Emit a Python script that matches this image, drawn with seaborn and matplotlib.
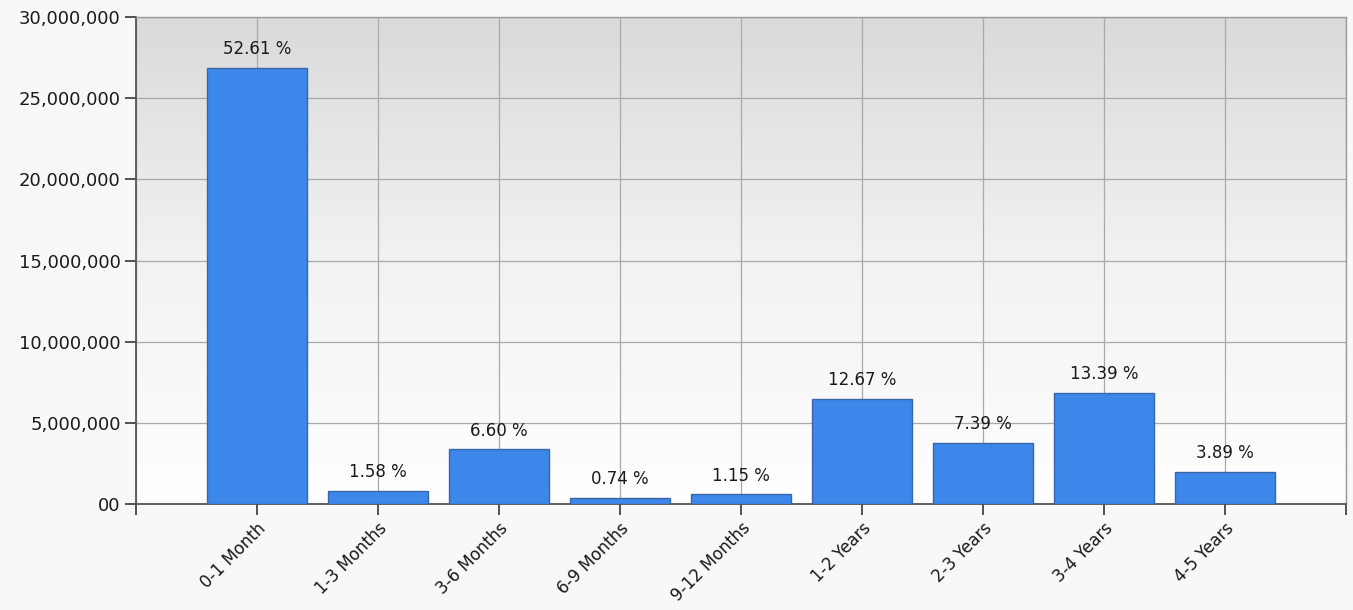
import numpy as np
import pandas as pd
import seaborn as sns
import matplotlib.pyplot as plt
from matplotlib.colors import LinearSegmentedColormap
from matplotlib.ticker import FixedLocator, FixedFormatter

# values
categories = ["0-1 Month", "1-3 Months", "3-6 Months", "6-9 Months", "9-12 Months",
              "1-2 Years", "2-3 Years", "3-4 Years", "4-5 Years"]
values = [26860000, 806000, 3370000, 378000, 587000, 6470000, 3770000, 6830000, 1985000]
pct_labels = ["52.61 %", "1.58 %", "6.60 %", "0.74 %", "1.15 %",
              "12.67 %", "7.39 %", "13.39 %", "3.89 %"]
y_ticks = [0, 5000000, 10000000, 15000000, 20000000, 25000000, 30000000]
y_tick_labels = ["00", "5,000,000", "10,000,000", "15,000,000", "20,000,000",
                 "25,000,000", "30,000,000"]

sns.set_theme(style="white")
plt.rcParams["font.family"] = ["DejaVu Sans"]

df = pd.DataFrame({"period": categories, "count": values})

fig = plt.figure(figsize=(13.53, 6.10), dpi=100, facecolor="#f8f8f8")
ax = fig.add_axes([0.1005, 0.1738, 0.8943, 0.7983])

sns.barplot(data=df, x="period", y="count", color="#3d87ea", saturation=1,
            width=0.82, edgecolor="#3a66a8", linewidth=1.0, ax=ax, zorder=3)

# grey-to-white background gradient of the plot area
grad = LinearSegmentedColormap.from_list("bg", ["#ffffff", "#f2f2f2", "#dadada"])
ax.imshow(np.linspace(0, 1, 256).reshape(-1, 1)[::-1], extent=(0, 1, 0, 1),
          transform=ax.transAxes, aspect="auto", cmap=grad, zorder=0)

ax.set_xlim(-1, 9)
ax.set_ylim(0, 30000000)

ax.xaxis.set_major_locator(FixedLocator(list(range(-1, 10))))
ax.xaxis.set_major_formatter(FixedFormatter([""] + categories + [""]))
ax.yaxis.set_major_locator(FixedLocator(y_ticks))
ax.yaxis.set_major_formatter(FixedFormatter(y_tick_labels))

ax.set_axisbelow(True)
ax.grid(True, color="#a9a9a9", linewidth=0.9)

ax.tick_params(axis="both", which="major", direction="out", length=8, width=1.3,
               color="#444444", labelcolor="#1a1a1a", pad=3,
               bottom=True, left=True)
ax.tick_params(axis="x", labelsize=12)
ax.tick_params(axis="y", labelsize=13)
plt.setp(ax.get_xticklabels(), rotation=45, ha="right", rotation_mode="anchor")

for side in ["left", "bottom"]:
    ax.spines[side].set_color("#555555")
    ax.spines[side].set_linewidth(1.3)
for side in ["top", "right"]:
    ax.spines[side].set_color("#9a9a9a")
    ax.spines[side].set_linewidth(1.0)

for i, (v, lab) in enumerate(zip(values, pct_labels)):
    ax.annotate(lab, (i, v), xytext=(0, 7), textcoords="offset points",
                ha="center", va="bottom", fontsize=12, color="#1a1a1a", zorder=4)

ax.set_xlabel("")
ax.set_ylabel("")

fig.savefig("out.png", dpi=100, facecolor=fig.get_facecolor())
